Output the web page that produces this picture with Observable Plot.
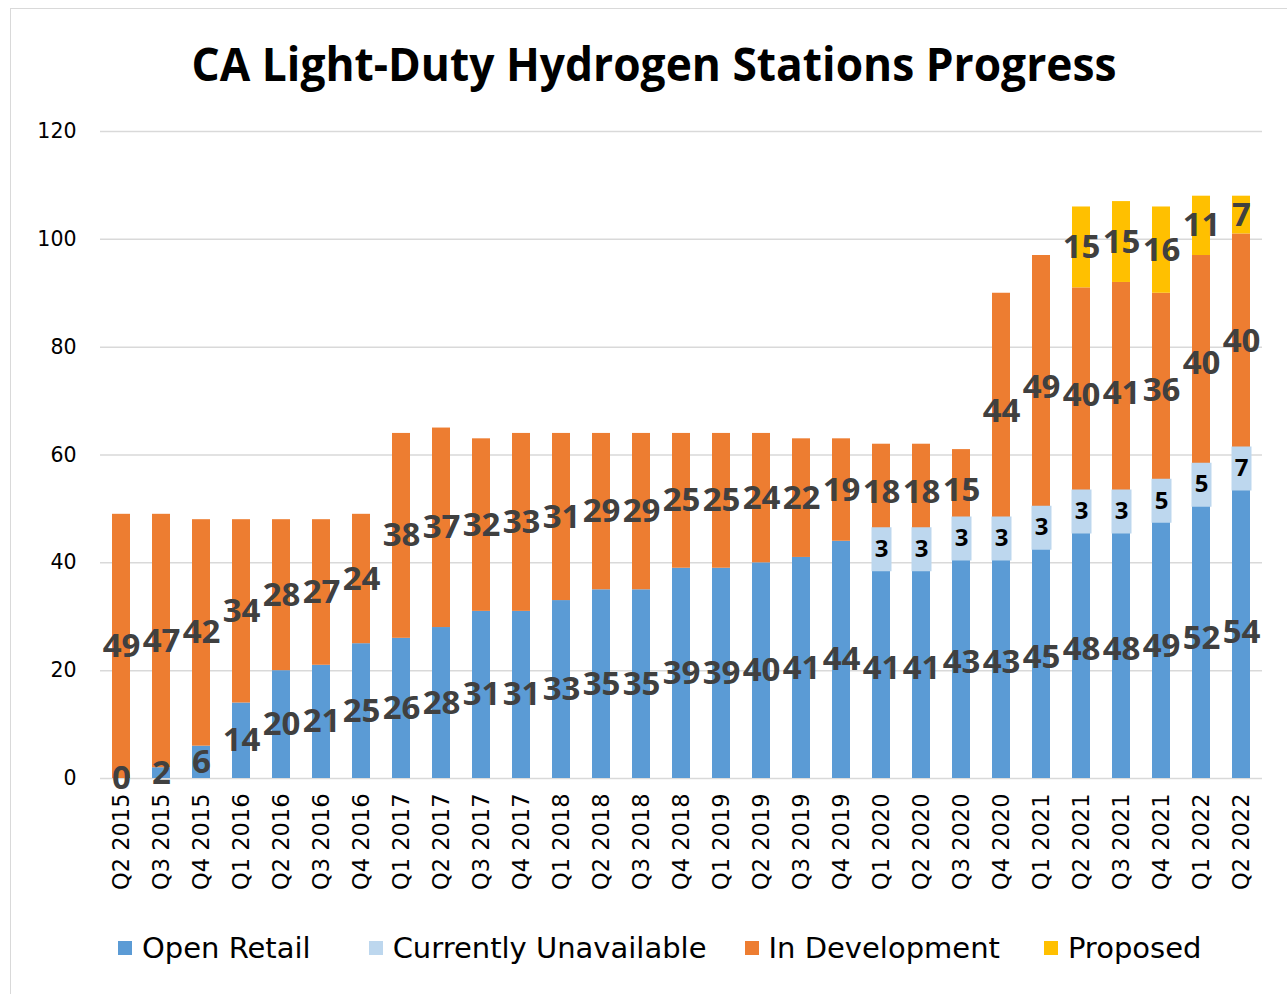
<!DOCTYPE html>
<html>
<head>
<meta charset="utf-8">
<script src="https://cdn.jsdelivr.net/npm/d3@7"></script>
<script src="https://cdn.jsdelivr.net/npm/@observablehq/plot@0.6"></script>
<style>
  body { margin: 0; background: #fff; }
  #wrap { position: relative; width: 1287px; height: 994px; overflow: hidden; background: #fff; }
  #frame { position: absolute; left: 10px; top: 8px; width: 1400px; height: 1100px; border: 1.5px solid #d9d9d9; box-sizing: border-box; }
  #title { position: absolute; left: 0; top: 0; }
  #chart { position: absolute; left: 0; top: 100px; }
  #legend { position: absolute; top: 931px; left: 118px; display: flex; align-items: center;
            font-family: "DejaVu Sans"; font-size: 29px; color: #000; white-space: nowrap; }
  .item { display: flex; align-items: center; gap: 10px; }
  .item:nth-child(2) { margin-left: 58px; }
  .item:nth-child(3) { margin-left: 38px; }
  .item:nth-child(4) { margin-left: 44px; }
  .sw { width: 14px; height: 14px; display: inline-block; }
</style>
</head>
<body>
<div id="wrap">
  <div id="frame"></div>
  <svg id="title" width="1287" height="100">
    <text x="654" y="81" text-anchor="middle" textLength="925" lengthAdjust="spacingAndGlyphs"
          font-family="Open Sans" font-weight="bold" font-size="47" fill="#000">CA Light-Duty Hydrogen Stations Progress</text>
  </svg>
  <div id="chart"></div>
  <div id="legend"></div>
</div>
<script>
const quarters = [
  "Q2 2015","Q3 2015","Q4 2015",
  "Q1 2016","Q2 2016","Q3 2016","Q4 2016",
  "Q1 2017","Q2 2017","Q3 2017","Q4 2017",
  "Q1 2018","Q2 2018","Q3 2018","Q4 2018",
  "Q1 2019","Q2 2019","Q3 2019","Q4 2019",
  "Q1 2020","Q2 2020","Q3 2020","Q4 2020",
  "Q1 2021","Q2 2021","Q3 2021","Q4 2021",
  "Q1 2022","Q2 2022"
];
const openRetail    = [0,2,6,14,20,21,25,26,28,31,31,33,35,35,39,39,40,41,44,41,41,43,43,45,48,48,49,52,54];
const unavailable   = [0,0,0,0,0,0,0,0,0,0,0,0,0,0,0,0,0,0,0,3,3,3,3,3,3,3,5,5,7];
const inDevelopment = [49,47,42,34,28,27,24,38,37,32,33,31,29,29,25,25,24,22,19,18,18,15,44,49,40,41,36,40,40];
const proposed      = [0,0,0,0,0,0,0,0,0,0,0,0,0,0,0,0,0,0,0,0,0,0,0,0,15,15,16,11,7];
const seriesNames  = ["Open Retail","Currently Unavailable","In Development","Proposed"];
const seriesColors = ["#5B9BD5","#BDD7EE","#ED7D31","#FFC000"];
const yTicks = [0,20,40,60,80,100,120];

const seriesValues = [openRetail, unavailable, inDevelopment, proposed];
const rows = quarters.flatMap((q, i) =>
  seriesNames.map((s, k) => ({quarter: q, series: s, value: seriesValues[k][i]})));

const stackOpts = {x: "quarter", y: "value", z: "series", order: seriesNames};

const boxSymbol = { draw(ctx) { ctx.rect(-10, -22, 20, 44); } };

const isBig = d => (d.series === "Open Retail") ||
  ((d.series === "In Development" || d.series === "Proposed") && d.value > 0);
const isUnavail = d => d.series === "Currently Unavailable" && d.value > 0;

const chart = Plot.plot({
  width: 1287,
  height: 800,
  marginTop: 31,
  marginBottom: 122,
  marginLeft: 100,
  marginRight: 25,
  x: {domain: quarters, paddingInner: 0.55, paddingOuter: 0.275, label: null},
  y: {domain: [0, 120], label: null},
  color: {domain: seriesNames, range: seriesColors},
  style: {background: "transparent", overflow: "visible"},
  marks: [
    Plot.gridY(yTicks, {stroke: "#d9d9d9", strokeOpacity: 1, strokeWidth: 1.5}),
    Plot.axisY(yTicks, {tickSize: 0, tickPadding: 24, fontSize: 20.5, fontFamily: "DejaVu Sans", fill: "#000", label: null}),
    Plot.axisX({tickSize: 0, tickRotate: -90, tickPadding: 15, fontSize: 22.5, fontFamily: "DejaVu Sans", fill: "#000", label: null}),
    Plot.barY(rows, Plot.stackY({...stackOpts, fill: "series"})),
    Plot.dot(rows, Plot.filter(isUnavail, Plot.stackY({...stackOpts, symbol: boxSymbol, fill: seriesColors[1], stroke: null}))),
    Plot.text(rows, Plot.filter(isUnavail, Plot.stackY({...stackOpts, text: d => String(d.value),
      fontSize: 24, fontWeight: "bold", fontFamily: "Open Sans", fill: "#000"}))),
    Plot.text(rows, Plot.filter(isBig, Plot.stackY({...stackOpts, text: d => String(d.value),
      fontSize: 33, fontWeight: "bold", fontFamily: "Open Sans", fill: "#404040"})))
  ]
});
document.getElementById("chart").appendChild(chart);

const legend = document.getElementById("legend");
seriesNames.forEach((s, k) => {
  const it = document.createElement("div");
  it.className = "item";
  const sw = document.createElement("span");
  sw.className = "sw";
  sw.style.background = seriesColors[k];
  const tx = document.createElement("span");
  tx.textContent = s;
  it.appendChild(sw); it.appendChild(tx);
  legend.appendChild(it);
});
</script>
</body>
</html>
